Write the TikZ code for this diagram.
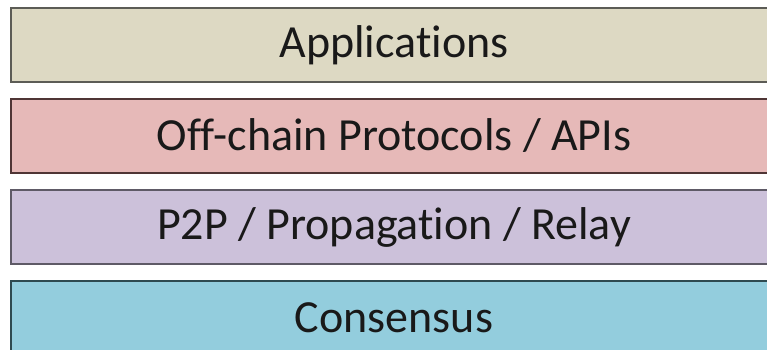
\documentclass[tikz,border=0pt]{standalone}
\usepackage{fontspec}
\setmainfont{Carlito}[Ligatures=NoCommon]
\definecolor{appfill}{HTML}{DDD9C3}
\definecolor{appline}{HTML}{5C5C56}
\definecolor{offfill}{HTML}{E6B9B8}
\definecolor{offline}{HTML}{4F3535}
\definecolor{p2pfill}{HTML}{CCC1DA}
\definecolor{p2pline}{HTML}{5E5A66}
\definecolor{consfill}{HTML}{93CDDD}
\definecolor{consline}{HTML}{2E4A50}

\begin{document}
\begin{tikzpicture}[x=1pt,y=-1pt,
  layer/.style={draw,line width=2.2pt,minimum width=766pt,minimum height=74pt,
    inner sep=0pt,text=black!90,font=\fontsize{46}{55}\selectfont}]

    \useasboundingbox (0,0) rectangle (767,350);
    \clip (0,0) rectangle (767,350);
    \node[layer,fill=appfill,draw=appline] (apps) at (394,45) {Applicat\kern0pt ions};
    \node[layer,fill=offfill,draw=offline] (offchain) at (394,136) {Off-chain Protocols / APIs};
    \node[layer,fill=p2pfill,draw=p2pline] (p2p) at (394,227) {P2P / Propagat\kern0pt ion / Relay};
    \node[layer,fill=consfill,draw=consline] (consensus) at (394,318) {Consensus};
  \end{tikzpicture}
\end{document}
